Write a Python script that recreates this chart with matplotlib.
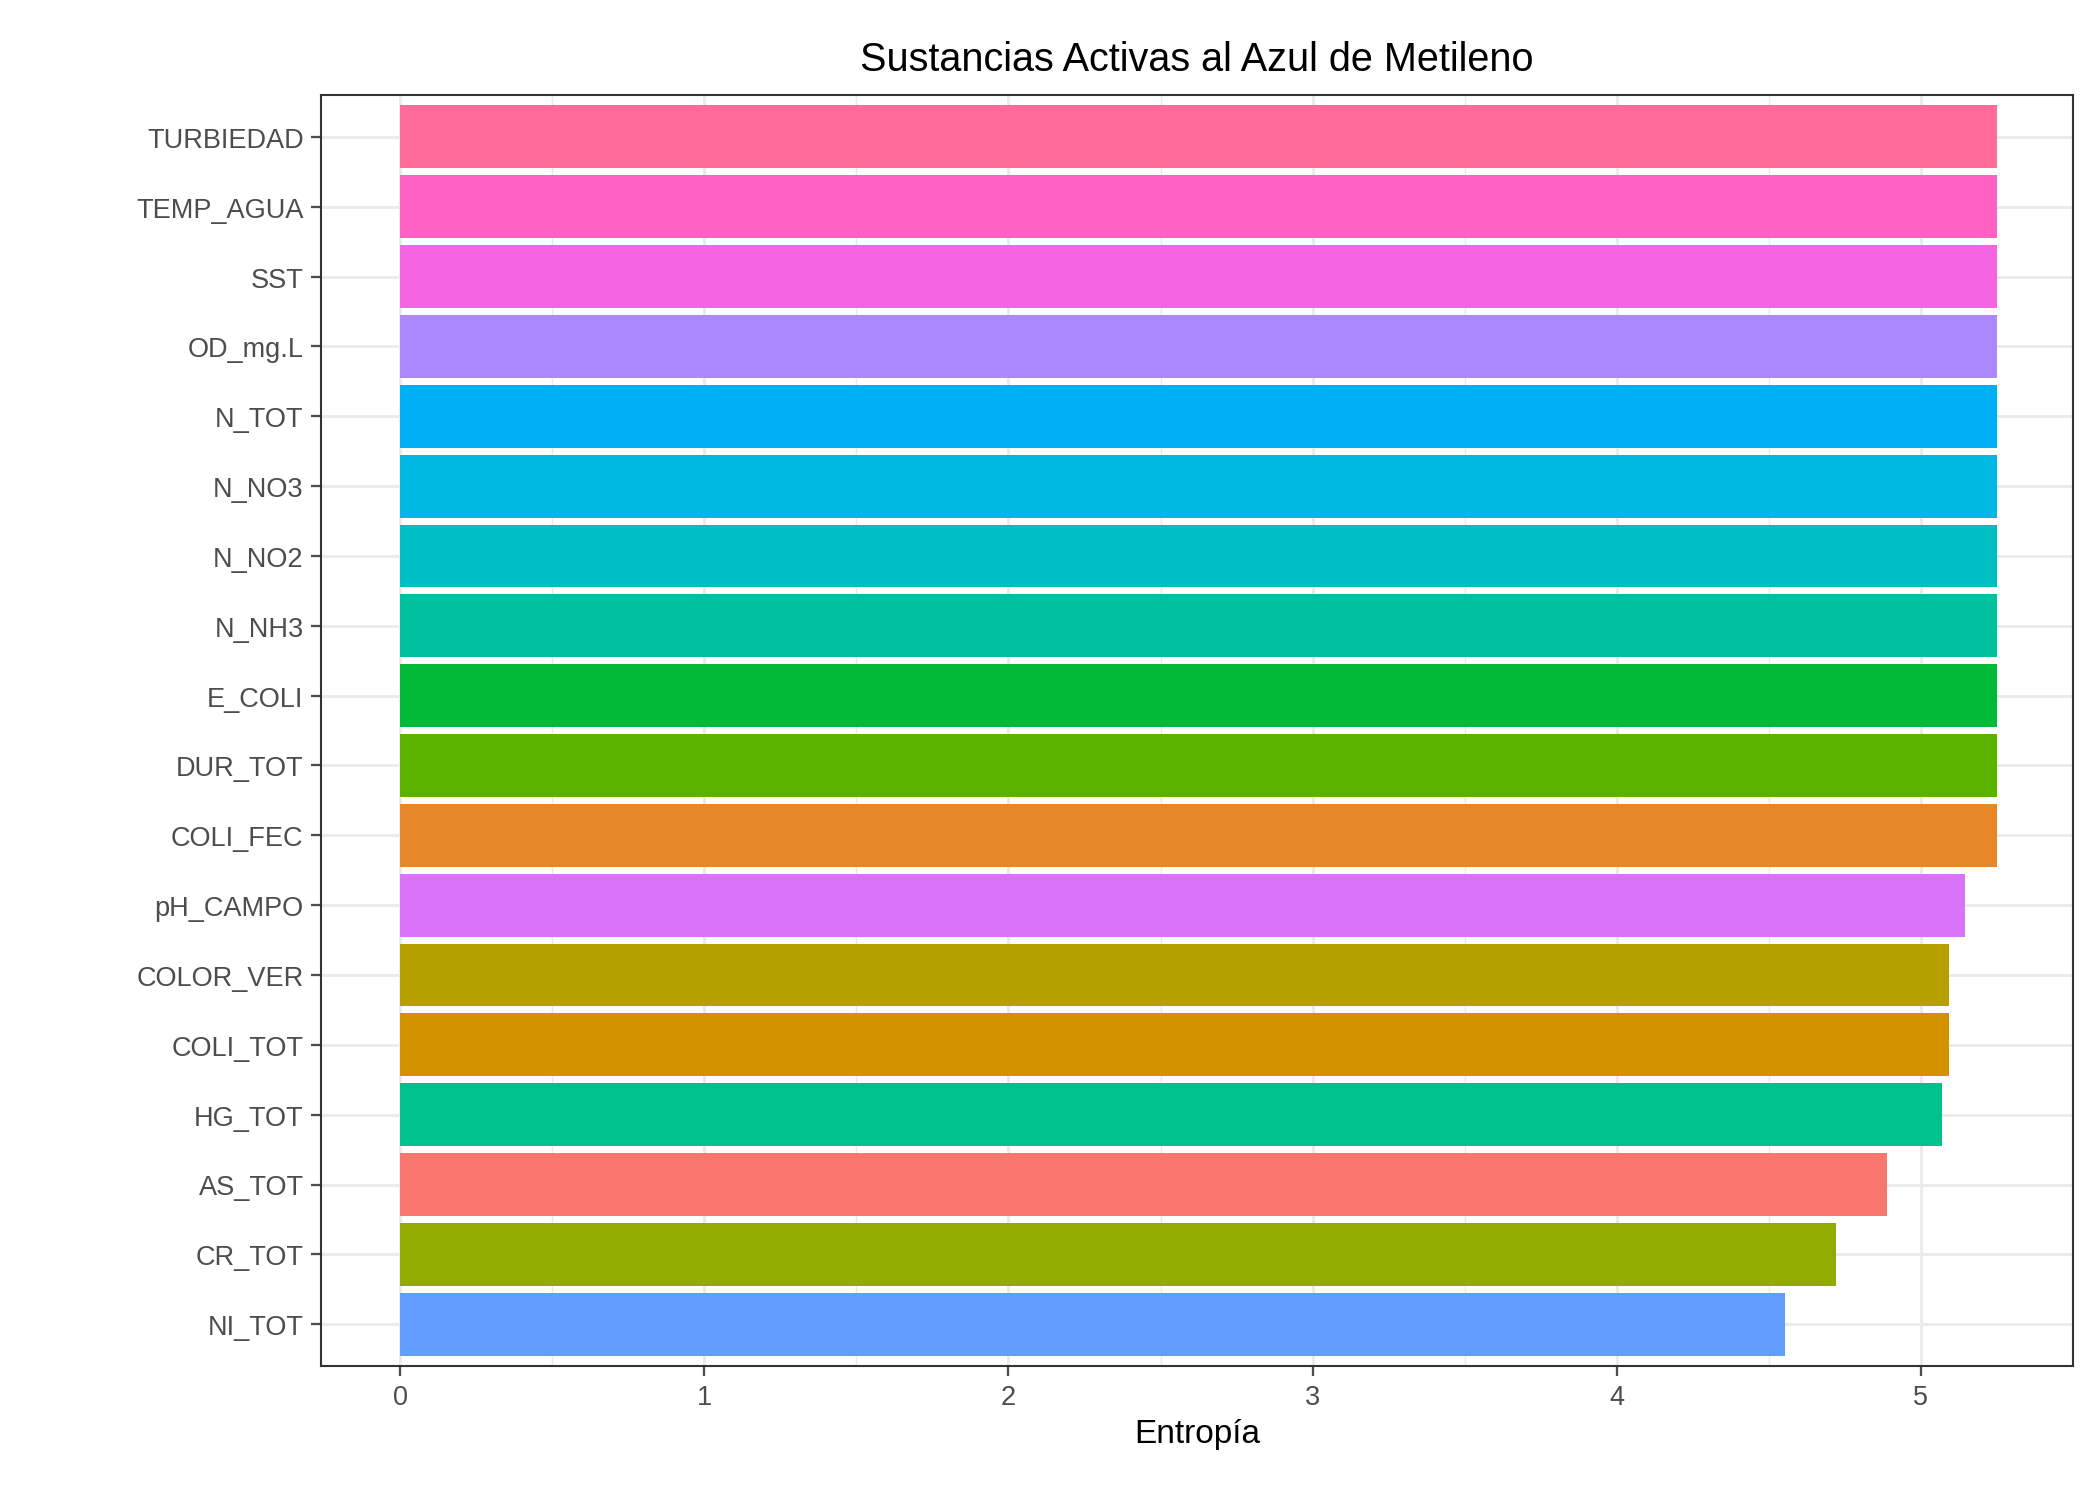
import matplotlib
matplotlib.use("Agg")
import matplotlib.pyplot as plt

plt.rcParams['font.family'] = ['Liberation Sans', 'DejaVu Sans']

# bottom to top
variables = ["NI_TOT", "CR_TOT", "AS_TOT", "HG_TOT", "COLI_TOT", "COLOR_VER",
             "pH_CAMPO", "COLI_FEC", "DUR_TOT", "E_COLI", "N_NH3", "N_NO2",
             "N_NO3", "N_TOT", "OD_mg.L", "SST", "TEMP_AGUA", "TURBIEDAD"]
entropia = [4.555, 4.72, 4.89, 5.07, 5.093, 5.093,
            5.145, 5.25, 5.25, 5.25, 5.25, 5.25,
            5.25, 5.25, 5.25, 5.25, 5.25, 5.25]
colores = ["#619CFF", "#93AA00", "#F8766D", "#00C08B", "#D39200", "#B79F00",
           "#DB72FB", "#E8862A", "#5BB300", "#00BA38", "#00C19F", "#00BFC4",
           "#00B9E3", "#00B0F6", "#AC88FF", "#F564E3", "#FF61C3", "#FF6C9A"]

fig = plt.figure(figsize=(14, 9.993), dpi=150)
ax = fig.add_axes([0.153, 0.088, 0.834, 0.848])

ypos = list(range(len(variables)))
ax.barh(ypos, entropia, height=0.9, color=colores, zorder=3)

ax.set_xlim(-0.26, 5.5)
ax.set_ylim(-0.6, len(variables) - 0.4)
ax.set_yticks(ypos)
ax.set_yticklabels(variables)
ax.set_xticks([0, 1, 2, 3, 4, 5])
ax.set_xticks([0.5, 1.5, 2.5, 3.5, 4.5], minor=True)
ax.grid(True, which='major', color='#EBEBEB', linewidth=1.4, zorder=0)
ax.grid(True, which='minor', axis='x', color='#EBEBEB', linewidth=0.7, zorder=0)
ax.tick_params(axis='both', which='major', labelsize=13, colors='#4D4D4D',
               length=5, width=1.1)
ax.tick_params(axis='both', labelcolor='#4D4D4D')
ax.tick_params(which='minor', length=0)
for s in ax.spines.values():
    s.set_color('#333333')
    s.set_linewidth(1.0)

ax.set_xlabel('Entropía', fontsize=16, labelpad=4)
ax.set_title('Sustancias Activas al Azul de Metileno', fontsize=19, pad=12)

fig.savefig('out.png', dpi=150)
